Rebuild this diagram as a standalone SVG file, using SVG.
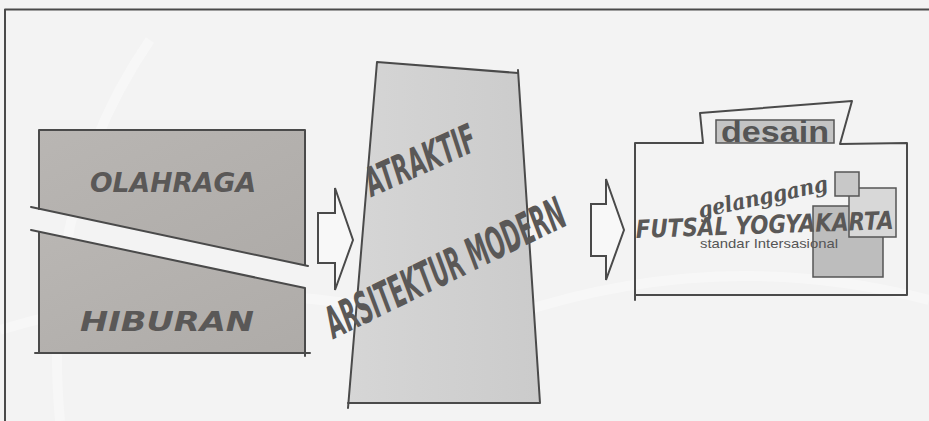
<svg xmlns="http://www.w3.org/2000/svg" width="929" height="421" viewBox="0 0 929 421">
<style>
.ln{fill:none;stroke:#4a4a4a;stroke-width:2;stroke-linecap:round;stroke-linejoin:round}
.brush{font-family:"DejaVu Sans",sans-serif;font-weight:bold;font-style:italic;fill:#5a5857}
.arrow{fill:#f8f8f8;stroke:#4a4a4a;stroke-width:2;stroke-linejoin:miter}
</style>
<defs>
<linearGradient id="gBlock" x1="0" y1="0" x2="1" y2="1">
<stop offset="0" stop-color="#b9b6b3"/><stop offset="1" stop-color="#aeaba8"/>
</linearGradient>
<linearGradient id="gTrap" x1="0" y1="0" x2="1" y2="0">
<stop offset="0" stop-color="#d6d6d6"/><stop offset="1" stop-color="#cbcbcb"/>
</linearGradient>
</defs>
<rect width="929" height="421" fill="#f3f3f3"/>
<g opacity="0.35" fill="none" stroke="#ffffff" stroke-width="10">
<path d="M0 330 Q230 260 470 330"/>
<path d="M470 330 Q700 240 929 300"/>
<path d="M150 40 Q40 200 60 421"/>
</g>
<g id="frame">
<path class="ln" d="M5 421 V9.5 H929" stroke-width="2.5"/>
</g>
<g id="olahraga">
<polygon points="39,130 305,130 305,265 39,209" fill="url(#gBlock)"/>
<path class="ln" d="M39 209 V130 H305 V265"/>
<path class="ln" d="M31 207 L308 266"/>
<text class="brush" x="90" y="192" font-size="26" textLength="166" lengthAdjust="spacingAndGlyphs">OLAHRAGA</text>
</g>
<g id="hiburan">
<polygon points="39,232 305,288 305,353 39,353" fill="url(#gBlock)"/>
<path class="ln" d="M31 230 L305 288 V356"/>
<path class="ln" d="M39 232 V353"/>
<path class="ln" d="M35 353 H310"/>
<text class="brush" x="80" y="331" font-size="27" textLength="174" lengthAdjust="spacingAndGlyphs">HIBURAN</text>
</g>
<g id="concept">
<polygon points="377,62 518,73 540,402 348,402" fill="url(#gTrap)"/>
<path class="ln" d="M518 73 L377 62 L348 408"/>
<path class="ln" d="M518 70 L540 403 H348"/>
<text class="brush" transform="translate(372,197) rotate(-24)" font-size="40" textLength="118" lengthAdjust="spacingAndGlyphs">ATRAKTIF</text>
<text class="brush" transform="translate(334,339) rotate(-26)" font-size="44" textLength="262" lengthAdjust="spacingAndGlyphs">ARSITEKTUR MODERN</text>
</g>
<g id="result">
<path class="ln" d="M703 143 L700 113 L852 101 L840 144 L907 143 V295 H635 V143 Z" fill="#f8f8f8"/>
<path class="ln" d="M635 290 V300"/>
<rect x="716" y="120" width="118" height="23" fill="#c4c4c4" stroke="#555" stroke-width="1.5"/>
<text x="721" y="142" font-family="'Liberation Sans',Arial,sans-serif" font-weight="bold" font-size="29" fill="#555" textLength="108" lengthAdjust="spacingAndGlyphs">desain</text>
<rect x="813" y="206" width="70" height="71" fill="#bdbdbd" stroke="#555" stroke-width="1.5"/>
<rect x="849" y="188" width="47" height="49" fill="#d8d8d8" stroke="#555" stroke-width="1.5"/>
<rect x="835" y="172" width="24" height="24" fill="#c8c8c8" stroke="#555" stroke-width="1.5"/>
<text transform="translate(700,218) rotate(-12)" font-family="'DejaVu Serif',serif" font-style="italic" font-weight="bold" font-size="22" fill="#555" textLength="132" lengthAdjust="spacingAndGlyphs">gelanggang</text>
<text class="brush" transform="translate(636,238) rotate(-2)" font-size="25" textLength="258" lengthAdjust="spacingAndGlyphs">FUTSAL YOGYAKARTA</text>
<text x="700" y="248" font-family="'Liberation Sans',Arial,sans-serif" font-size="13" fill="#555" textLength="138" lengthAdjust="spacingAndGlyphs">standar Intersasional</text>
</g>
<g id="connectors">
<polygon class="arrow" points="318,213 335,213 335,188 353,240 335,290 335,263 318,263"/>
<polygon class="arrow" points="591,204 606,204 606,179 624,230 606,280 606,256 591,256"/>
</g>
</svg>
